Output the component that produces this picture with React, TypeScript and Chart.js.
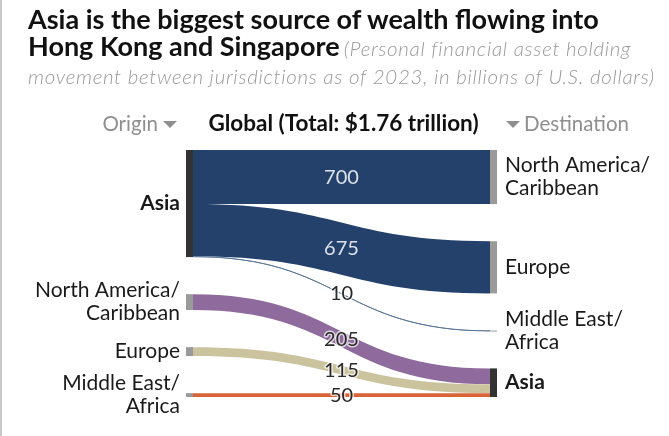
import React, { useEffect, useRef } from 'react';
import { Chart, registerables } from 'chart.js';
Chart.register(...registerables);

// ---- data ----
const originLabels = ['Asia', 'North America/\nCaribbean', 'Europe', 'Middle East/\nAfrica'];
const destinationLabels = ['North America/\nCaribbean', 'Europe', 'Middle East/\nAfrica', 'Asia'];
const flowOrigin = [0, 0, 0, 1, 2, 3];
const flowDestination = [0, 1, 2, 3, 3, 3];
const flowValues = [700, 675, 10, 205, 115, 50];
const flowColors = ['#24416c', '#24416c', '#5a7697', '#8f6a9c', '#cbc39e', '#d9643a'];
const originBold = [true, false, false, false];
const destinationBold = [false, false, false, true];
const originNodeColors = ['#333333', '#9a9a9a', '#9a9a9a', '#9a9a9a'];
const destinationNodeColors = ['#9a9a9a', '#9a9a9a', '#9a9a9a', '#333333'];

// ---- layout (styles) ----
const NODE_GAP = 480; // in value units
const NODE_W = 7;
const FONT = 'Lato, "Noto Sans", sans-serif';

function sumBy(idx: number[], n: number) {
  const s = new Array(n).fill(0);
  flowValues.forEach((v, i) => (s[idx[i]] += v));
  return s;
}
const originTotals = sumBy(flowOrigin, originLabels.length);
const destTotals = sumBy(flowDestination, destinationLabels.length);
function starts(tot: number[]) {
  const r: number[] = [];
  let acc = 0;
  tot.forEach((t) => {
    r.push(acc);
    acc += t + NODE_GAP;
  });
  return r;
}
const originStarts = starts(originTotals);
const destStarts = starts(destTotals);
const yMax = Math.max(
  originTotals.reduce((a, b) => a + b, 0) + NODE_GAP * (originTotals.length - 1),
  destTotals.reduce((a, b) => a + b, 0) + NODE_GAP * (destTotals.length - 1)
);

function drawLabel(ctx: CanvasRenderingContext2D, text: string, x: number, cy: number, align: CanvasTextAlign, bold: boolean) {
  const lines = text.split('\n');
  const lh = 23;
  ctx.save();
  ctx.font = `${bold ? 'bold ' : ''}21px ${FONT}`;
  ctx.fillStyle = '#1a1a1a';
  ctx.textAlign = align;
  ctx.textBaseline = 'middle';
  lines.forEach((l, i) => {
    ctx.fillText(l, x, cy + (i - (lines.length - 1) / 2) * lh);
  });
  ctx.restore();
}

const sankeyPlugin = {
  id: 'sankeyDraw',
  afterDatasetsDraw(chart: any) {
    const ctx: CanvasRenderingContext2D = chart.ctx;
    const xs = chart.scales.x;
    const ys = chart.scales.y;
    const xL = xs.getPixelForValue(0);
    const xR = xs.getPixelForValue(1);
    const y = (v: number) => ys.getPixelForValue(v);

    // flows
    const oOff = [...originStarts];
    const dOff = [...destStarts];
    const labels: any[] = [];
    flowValues.forEach((v, i) => {
      const o = flowOrigin[i];
      const d = flowDestination[i];
      const y0t = y(oOff[o]);
      const y0b = y(oOff[o] + v);
      const y1t = y(dOff[d]);
      const y1b = y(dOff[d] + v);
      oOff[o] += v;
      dOff[d] += v;
      const a = xL + NODE_W;
      const b = xR - NODE_W;
      const m = (a + b) / 2;
      ctx.save();
      ctx.beginPath();
      ctx.moveTo(a, y0t);
      ctx.bezierCurveTo(m, y0t, m, y1t, b, y1t);
      ctx.lineTo(b, y1b);
      ctx.bezierCurveTo(m, y1b, m, y0b, a, y0b);
      ctx.closePath();
      ctx.fillStyle = flowColors[i];
      ctx.fill();
      if (y0b - y0t < 2) {
        ctx.beginPath();
        const c0 = (y0t + y0b) / 2;
        const c1 = (y1t + y1b) / 2;
        ctx.moveTo(a, c0);
        ctx.bezierCurveTo(m, c0, m, c1, b, c1);
        ctx.lineWidth = 1;
        ctx.strokeStyle = flowColors[i];
        ctx.stroke();
      }
      ctx.restore();
      labels.push({ v, x: m, y: ((y0t + y0b) / 2 + (y1t + y1b) / 2) / 2, inside: y0b - y0t > 25 });
    });

    // nodes
    originTotals.forEach((t, i) => {
      const yt = y(originStarts[i]);
      const yb = y(originStarts[i] + t);
      ctx.fillStyle = originNodeColors[i];
      ctx.fillRect(xL, yt, NODE_W, Math.max(1, yb - yt));
      drawLabel(ctx, originLabels[i], xL - 6, (yt + yb) / 2, 'right', originBold[i]);
    });
    destTotals.forEach((t, i) => {
      const yt = y(destStarts[i]);
      const yb = y(destStarts[i] + t);
      ctx.fillStyle = destinationNodeColors[i];
      ctx.fillRect(xR - NODE_W, yt, NODE_W, Math.max(1, yb - yt));
      drawLabel(ctx, destinationLabels[i], xR + 8, (yt + yb) / 2, 'left', destinationBold[i]);
    });

    // flow value labels
    labels.forEach((l) => {
      ctx.save();
      ctx.font = `20px ${FONT}`;
      ctx.textAlign = 'center';
      ctx.textBaseline = 'middle';
      if (l.inside) {
        ctx.fillStyle = 'rgba(235,238,245,0.92)';
      } else {
        ctx.lineWidth = 3;
        ctx.strokeStyle = 'rgba(255,255,255,0.7)';
        ctx.lineJoin = 'round';
        ctx.strokeText(String(l.v), l.x, l.y);
        ctx.fillStyle = '#2a2a2a';
      }
      ctx.fillText(String(l.v), l.x, l.y);
      ctx.restore();
    });

    // column headers
    ctx.save();
    const hy = 124;
    ctx.textBaseline = 'middle';
    ctx.font = `20.5px ${FONT}`;
    ctx.fillStyle = '#8f8f8f';
    ctx.textAlign = 'right';
    ctx.fillText('Origin', 158, hy);
    ctx.textAlign = 'left';
    ctx.fillText('Destination', 524, hy);
    const tri = (cx: number) => {
      ctx.beginPath();
      ctx.moveTo(cx - 7, hy - 3);
      ctx.lineTo(cx + 7, hy - 3);
      ctx.lineTo(cx, hy + 4);
      ctx.closePath();
      ctx.fill();
    };
    tri(170);
    tri(513);
    ctx.font = `bold 22.5px ${FONT}`;
    ctx.fillStyle = '#111';
    ctx.textAlign = 'center';
    ctx.fillText('Global (Total: $1.76 trillion)', 343.5, hy);
    ctx.restore();
  },
};

export default function App() {
  const ref = useRef<HTMLCanvasElement>(null);
  useEffect(() => {
    document.body.style.margin = '0';
    const chart = new Chart(ref.current!, {
      type: 'scatter',
      data: { datasets: [{ data: [] }] },
      options: {
        animation: false,
        responsive: false,
        maintainAspectRatio: false,
        layout: { padding: { left: 186, right: 172, top: 150, bottom: 39 } },
        scales: {
          x: { type: 'linear', min: 0, max: 1, display: false },
          y: { type: 'linear', min: 0, max: yMax, reverse: true, display: false },
        },
        plugins: { legend: { display: false }, tooltip: { enabled: false }, title: { display: false } },
      },
      plugins: [sankeyPlugin],
    });
    return () => chart.destroy();
  }, []);
  return (
    <div style={{ position: 'relative', width: 669, height: 436, background: '#fff', overflow: 'hidden' }}>
      <div style={{ position: 'absolute', left: 0, top: 0, width: 2, height: 436, background: '#c8c8c8' }} />
      <canvas ref={ref} width={669} height={436} style={{ position: 'absolute', left: 0, top: 0 }} />
      <div
        style={{
          position: 'absolute',
          left: 28,
          top: 5,
          fontFamily: FONT,
          whiteSpace: 'nowrap',
          lineHeight: '27px',
        }}
      >
        <div style={{ fontWeight: 'bold', fontSize: 27, color: '#111' }}>
          Asia is the biggest source of wealth flowing into
        </div>
        <div>
          <span style={{ fontWeight: 'bold', fontSize: 27, color: '#111' }}>Hong Kong and Singapore</span>{' '}
          <span style={{ fontStyle: 'italic', fontWeight: 300, fontSize: 20.5, letterSpacing: '0.7px', color: '#999' }}>
            (Personal financial asset holding
          </span>
        </div>
        <div style={{ fontStyle: 'italic', fontWeight: 300, fontSize: 20.5, letterSpacing: '0.7px', color: '#999' }}>
          movement between jurisdictions as of 2023, in billions of U.S. dollars)
        </div>
      </div>
    </div>
  );
}
